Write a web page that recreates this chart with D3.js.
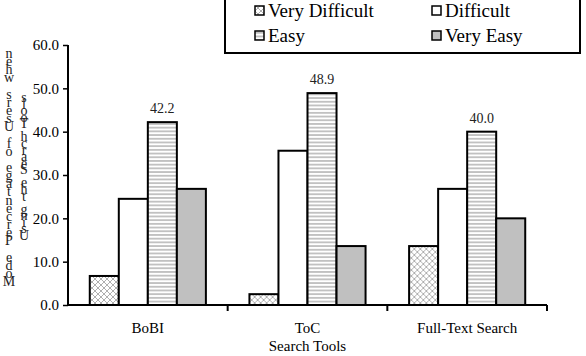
<!DOCTYPE html>
<html>
<head>
<meta charset="utf-8">
<script src="https://cdn.jsdelivr.net/npm/d3@7"></script>
</head>
<body style="margin:0;background:#fff">
<script>
const categories = ["BoBI", "ToC", "Full-Text Search"];
const seriesNames = ["Very Difficult", "Difficult", "Easy", "Very Easy"];
const veryDifficult = [6.7, 2.5, 13.6];
const difficult = [24.5, 35.6, 26.8];
const easy = [42.2, 48.9, 40.0];
const veryEasy = [26.8, 13.6, 20.0];
const yTicks = [0, 10, 20, 30, 40, 50, 60];
const yLabelLines = ["Mode Percentage of Users when", "Using the Search Tools"];

const width = 586, height = 356;
const margin = {left: 68, right: 39, top: 45, bottom: 51};
const ff = '"Liberation Serif", monospace';

const svg = d3.select("body").append("svg")
    .attr("width", width)
    .attr("height", height);

const defs = svg.append("defs");

// crosshatch for Very Difficult
const cross = defs.append("pattern")
    .attr("id", "cross")
    .attr("patternUnits", "userSpaceOnUse")
    .attr("width", 6).attr("height", 6);
cross.append("rect").attr("width", 6).attr("height", 6).attr("fill", "#fff");
cross.append("path").attr("d", "M0,0L6,6M6,0L0,6")
    .attr("stroke", "#9a9a9a").attr("stroke-width", 0.8);

// horizontal lines for Easy
const hlines = defs.append("pattern")
    .attr("id", "hlines")
    .attr("patternUnits", "userSpaceOnUse")
    .attr("width", 6).attr("height", 3.7);
hlines.append("rect").attr("width", 6).attr("height", 3.7).attr("fill", "#fff");
hlines.append("rect").attr("y", 1.2).attr("width", 6).attr("height", 1.3).attr("fill", "#a8a8a8");

const fills = ["url(#cross)", "#fff", "url(#hlines)", "#c0c0c0"];
const seriesValues = [veryDifficult, difficult, easy, veryEasy];

const x = d3.scaleBand()
    .domain(categories)
    .range([margin.left, width - margin.right]);

const inner = d3.scaleBand()
    .domain(seriesNames)
    .range([0, x.bandwidth()])
    .paddingOuter(0.75);

const y = d3.scaleLinear()
    .domain([0, 60])
    .range([height - margin.bottom, margin.top]);

// bars
const groups = svg.selectAll(".grp")
    .data(categories)
    .enter().append("g")
    .attr("class", "grp")
    .attr("transform", d => `translate(${x(d)},0)`);

groups.selectAll("rect")
    .data((c, ci) => seriesNames.map((s, si) => ({s, si, v: seriesValues[si][ci]})))
    .enter().append("rect")
    .attr("x", d => inner(d.s))
    .attr("width", inner.bandwidth())
    .attr("y", d => y(d.v))
    .attr("height", d => y(0) - y(d.v))
    .attr("fill", d => fills[d.si])
    .attr("stroke", "#000")
    .attr("stroke-width", 2);

// value labels on Easy bars
groups.append("text")
    .attr("x", (c) => inner("Easy") + inner.bandwidth() / 2)
    .attr("y", (c, ci) => y(easy[ci]) - 9)
    .attr("text-anchor", "middle")
    .attr("font-size", 14)
    .attr("fill", "#222")
    .style("font-family", ff)
    .text((c, ci) => easy[ci].toFixed(1));

// y axis
const yAxis = svg.append("g")
    .attr("transform", `translate(${margin.left},0)`)
    .call(d3.axisLeft(y).tickValues(yTicks).tickFormat(d3.format(".1f")).tickSize(5).tickPadding(4));
yAxis.select(".domain").attr("stroke-width", 2).attr("d", `M0,${y(60)}V${y(0)}`);
yAxis.selectAll(".tick line").attr("stroke-width", 1.5);
yAxis.selectAll("text")
    .attr("fill", "#000")
    .attr("font-size", 15)
    .style("font-family", ff);

// x axis
const xAxis = svg.append("g")
    .attr("transform", `translate(0,${y(0)})`);
xAxis.append("line")
    .attr("x1", margin.left).attr("x2", width - margin.right)
    .attr("stroke", "#000").attr("stroke-width", 2);
xAxis.selectAll(".xt")
    .data(categories)
    .enter().append("line")
    .attr("x1", d => x(d) + x.bandwidth()).attr("x2", d => x(d) + x.bandwidth())
    .attr("y1", 0).attr("y2", 6)
    .attr("stroke", "#000").attr("stroke-width", 2);
xAxis.selectAll(".xl")
    .data(categories)
    .enter().append("text")
    .attr("x", d => x(d) + x.bandwidth() / 2)
    .attr("y", 28)
    .attr("text-anchor", "middle")
    .attr("font-size", 15)
    .style("font-family", ff)
    .text(d => d);

svg.append("text")
    .attr("x", x(categories[1]) + x.bandwidth() / 2)
    .attr("y", 351)
    .attr("text-anchor", "middle")
    .attr("font-size", 15)
    .style("font-family", ff)
    .text("Search Tools");

// garbled y label: upright letters stacked upward
const labelCols = [
    {text: yLabelLines[0], x: 9, y0: 286, y1: 58},
    {text: yLabelLines[1], x: 24, y0: 240, y1: 102}
];
labelCols.forEach(col => {
    const chars = col.text.split("");
    const step = (col.y0 - col.y1) / (chars.length - 1);
    svg.append("g").selectAll("text")
        .data(chars)
        .enter().append("text")
        .attr("x", col.x)
        .attr("y", (d, i) => col.y0 - i * step)
        .attr("text-anchor", "middle")
        .attr("font-size", 14)
        .attr("fill", "#222")
        .style("font-family", ff)
        .text(d => d);
});

// legend
const legend = svg.append("g");
legend.append("rect")
    .attr("x", 225).attr("y", -2)
    .attr("width", 355).attr("height", 55)
    .attr("fill", "#fff").attr("stroke", "#000").attr("stroke-width", 2);

const legPos = [[255, 17], [432, 17], [255, 42], [432, 42]];
const legItems = legend.selectAll(".li")
    .data(seriesNames)
    .enter().append("g")
    .attr("transform", (d, i) => `translate(${legPos[i][0]},${legPos[i][1]})`);
legItems.append("rect")
    .attr("x", 0).attr("y", -11)
    .attr("width", 9).attr("height", 9)
    .attr("fill", (d, i) => fills[i])
    .attr("stroke", "#000").attr("stroke-width", 1.5);
legItems.append("text")
    .attr("x", 13).attr("y", 0)
    .attr("font-size", 19)
    .style("font-family", ff)
    .text(d => d);
</script>
</body>
</html>
